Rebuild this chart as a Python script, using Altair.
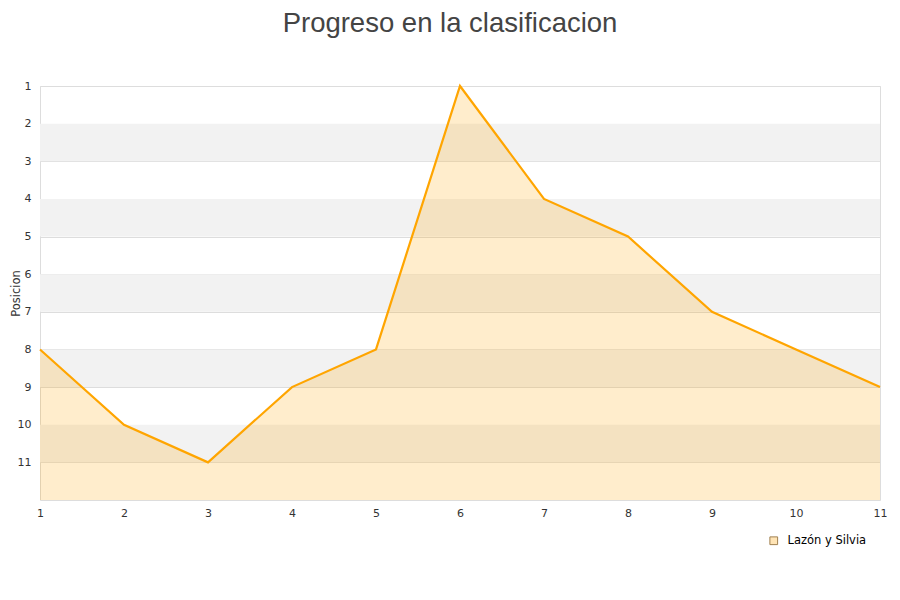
import altair as alt
import pandas as pd

jornadas = [1, 2, 3, 4, 5, 6, 7, 8, 9, 10, 11]
posicion = [8, 10, 11, 9, 8, 1, 4, 5, 7, 8, 9]
equipo = "Lazón y Silvia"
band_starts = [2, 4, 6, 8, 10]

df = pd.DataFrame({"jornada": jornadas, "posicion": posicion, "equipo": [equipo] * len(jornadas)})
bands = pd.DataFrame({"y": band_starts, "y2": [b + 1 for b in band_starts]})

xs = alt.Scale(domain=[1, 11], nice=False, zero=False)
ys = alt.Scale(domain=[1, 12], reverse=True, nice=False, zero=False)

band_layer = alt.Chart(bands).mark_rect(color="#f2f2f2").encode(
    x=alt.value(0), x2=alt.value(840),
    y=alt.Y("y:Q", scale=ys), y2="y2:Q",
)

area = alt.Chart(df).mark_area(color="#ffa500", opacity=0.2, line=False).encode(
    x=alt.X("jornada:Q", scale=xs,
            axis=alt.Axis(values=jornadas, format="d", title=None, grid=False, ticks=False, domain=False,
                          labelFlush=False, labelFontSize=11, labelColor="#333",
                          labelFont="DejaVu Sans", labelPadding=7)),
    y=alt.Y("posicion:Q", scale=ys,
            axis=alt.Axis(values=list(range(1, 12)), format="d", title="Posicion", grid=True,
                          gridColor="#dddddd", ticks=False, domain=False, labelFontSize=11,
                          labelColor="#333", labelFont="DejaVu Sans", labelPadding=9,
                          titleFont="DejaVu Sans", titleFontSize=11.5, titleFontWeight="normal",
                          titleColor="#333", titleX=-21, titleY=207, titleAngle=270,
                          titleBaseline="alphabetic", titleAlign="center")),
    y2=alt.datum(12),
)

line = alt.Chart(df).mark_line(color="#ffa500", strokeWidth=2.2).encode(
    x=alt.X("jornada:Q", scale=xs),
    y=alt.Y("posicion:Q", scale=ys),
)

legend_layer = alt.Chart(df).mark_point(opacity=0).encode(
    x=alt.X("jornada:Q", scale=xs),
    y=alt.Y("posicion:Q", scale=ys),
    fill=alt.Fill("equipo:N", scale=alt.Scale(range=["#ffe4b5"]),
                  legend=alt.Legend(title=None, orient="none", legendX=728, legendY=449,
                                    symbolType="square", symbolSize=60, symbolStrokeColor="#a08050",
                                    symbolStrokeWidth=1, symbolOpacity=1, labelFontSize=11.5,
                                    labelOffset=8, labelFont="DejaVu Sans", labelColor="#000")),
)

chart = alt.layer(band_layer, area, line, legend_layer).properties(
    width=840, height=414,
    autosize=alt.AutoSizeParams(type="none"),
    padding={"left": 32, "top": 78, "right": 8, "bottom": 70},
    title=alt.TitleParams("Progreso en la clasificacion", fontSize=27.5, font="Liberation Sans",
                          fontWeight="normal", color="#444", anchor="middle", offset=43, dx=-10),
).configure_view(stroke="#dddddd", strokeWidth=1).configure_axis(gridWidth=1)

chart.save("out.html", embed_options={"renderer": "svg", "actions": False})
